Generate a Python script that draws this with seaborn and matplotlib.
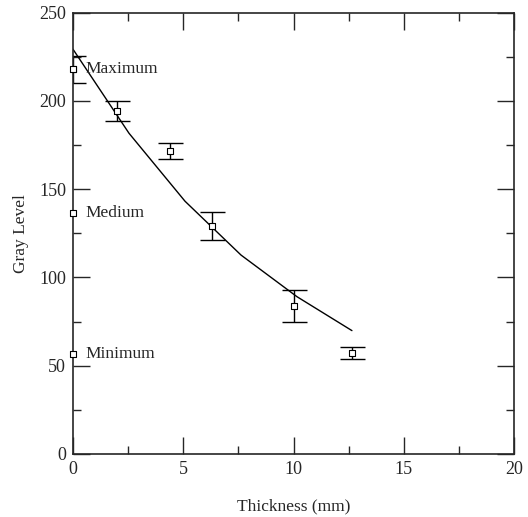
import numpy as np
import pandas as pd
import matplotlib
matplotlib.use("Agg")
import matplotlib.pyplot as plt
import seaborn as sns
from matplotlib.ticker import MultipleLocator

# measured gray levels with error bars
thickness = [0.0, 2.0, 4.4, 6.3, 10.0, 12.65]
gray_level = [218, 194.5, 171.7, 129.2, 83.9, 57.1]
gray_err = [7.7, 5.7, 4.5, 7.9, 9.0, 3.4]

# fitted curve
fit_thickness = [0.0, 2.54, 5.08, 7.62, 10.16, 12.65]
fit_gray = [229.3, 181.7, 143.2, 112.7, 89.1, 69.9]

# reference levels marked on the y axis
ref_names = ["Maximum", "Medium", "Minimum"]
ref_levels = [218, 136.7, 56.5]

sns.set_style("ticks")
plt.rcParams['font.family'] = ['Liberation Serif', 'DejaVu Serif']
plt.rcParams['xtick.direction'] = 'in'
plt.rcParams['ytick.direction'] = 'in'

df_pts = pd.DataFrame({'thickness': thickness, 'gray': gray_level})
df_fit = pd.DataFrame({'thickness': fit_thickness, 'gray': fit_gray})
df_ref = pd.DataFrame({'thickness': [0.0] * len(ref_levels), 'gray': ref_levels})

fig = plt.figure(figsize=(5.28, 5.17), dpi=100)
ax = fig.add_axes([73 / 528, 1 - 454 / 517, 441 / 528, 441.3 / 517])

sns.lineplot(data=df_fit, x='thickness', y='gray', color='black', linewidth=1, ax=ax)
ax.errorbar(thickness, gray_level, yerr=gray_err, fmt='none', ecolor='black',
            elinewidth=1, capsize=9, capthick=1)
sns.scatterplot(data=df_pts, x='thickness', y='gray', marker='s', s=15,
                facecolor='white', edgecolor='black', linewidth=0.8, ax=ax, zorder=5)
sns.scatterplot(data=df_ref, x='thickness', y='gray', marker='s', s=15,
                facecolor='white', edgecolor='black', linewidth=0.8, ax=ax,
                zorder=5, clip_on=False)

for name, level in zip(ref_names, ref_levels):
    ax.text(0.55, level, name, fontsize=12.5, va='center', ha='left')

ax.set_xlim(0, 20)
ax.set_ylim(0, 250)
ax.xaxis.set_major_locator(MultipleLocator(5))
ax.xaxis.set_minor_locator(MultipleLocator(2.5))
ax.yaxis.set_major_locator(MultipleLocator(50))
ax.yaxis.set_minor_locator(MultipleLocator(25))
ax.tick_params(which='both', top=True, right=True, labelsize=13, width=1)
ax.tick_params(which='major', length=12, pad=5)
ax.tick_params(which='minor', length=6)
for sp in ax.spines.values():
    sp.set_linewidth(1.2)
    sp.set_visible(True)

ax.set_xlabel('Thickness (mm)', fontsize=12.5, labelpad=15)
ax.set_ylabel('Gray Level', fontsize=12.5, labelpad=7)

plt.savefig('out.png', dpi=100)
